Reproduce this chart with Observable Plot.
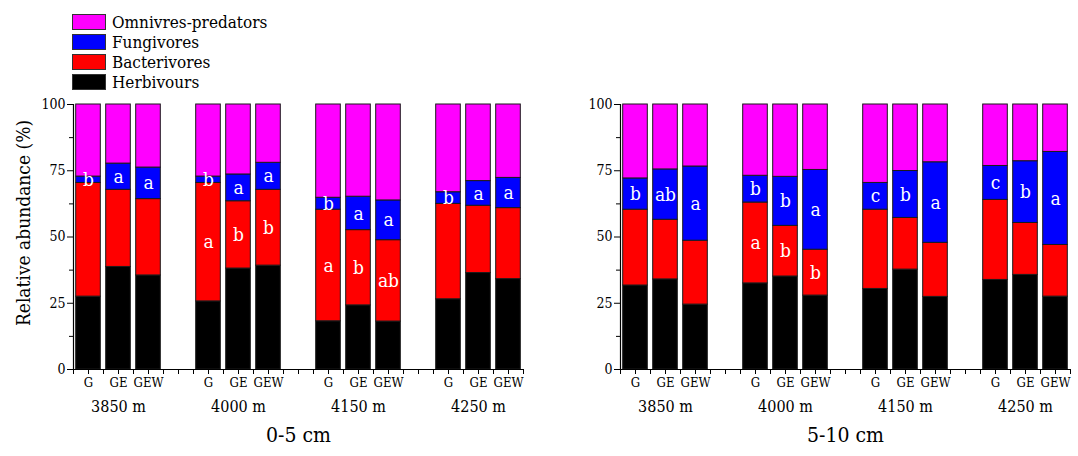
<!DOCTYPE html>
<html>
<head>
<meta charset="utf-8">
<script src="https://cdn.jsdelivr.net/npm/d3@7"></script>
<script src="https://cdn.jsdelivr.net/npm/@observablehq/plot@0.6"></script>
<style>
  body { margin: 0; background: #fff; }
  #wrap { position: relative; width: 1078px; height: 456px; font-family: "DejaVu Serif Condensed", "DejaVu Serif", serif; font-stretch: condensed; color: #000; }
  .panel { position: absolute; top: 0; }
  #legend { position: absolute; left: 72px; top: 12px; }
  .lrow { display: flex; align-items: center; height: 20px; }
  .sw { width: 34px; height: 16px; border: 1px solid #333; box-sizing: border-box; margin-right: 6px; }
  .lt { font-size: 17px; line-height: 17px; }
  svg text { font-stretch: condensed; }
</style>
</head>
<body>
<div id="wrap">
  <div id="legend"></div>
  <div class="panel" id="left" style="left:0px"></div>
  <div class="panel" id="right" style="left:545px"></div>
</div>
<script>
// ---- data ----
const altitudes = ["3850 m", "4000 m", "4150 m", "4250 m"];
const treatments = ["G", "GE", "GEW"];
const slots = [1, 2, 3, 5, 6, 7, 9, 10, 11, 13, 14, 15];
const guilds = ["Herbivours", "Bacterivores", "Fungivores", "Omnivres-predators"];
const guildColors = ["#000000", "#ff0000", "#0000ff", "#ff00ff"];
const panelTitles = ["0-5 cm", "5-10 cm"];

// 0-5 cm (%), order: 3850 G,GE,GEW, 4000 G,GE,GEW, 4150 ..., 4250 ...
const herb0_5 = [27.5, 38.7, 35.5, 25.7, 38.1, 39.2, 18.2, 24.2, 18.1, 26.5, 36.4, 34.1];
const bact0_5 = [42.9, 29.1, 28.8, 44.7, 25.4, 28.6, 42.1, 28.4, 30.7, 36.0, 25.4, 26.8];
const fung0_5 = [2.4, 9.9, 11.9, 2.4, 10.1, 10.2, 4.5, 12.6, 15.0, 4.4, 9.3, 11.4];
const omni0_5 = [27.2, 22.3, 23.8, 27.2, 26.4, 22.0, 35.2, 34.8, 36.2, 33.1, 28.9, 27.7];
const fungLetters0_5 = ["b", "a", "a", "b", "a", "a", "b", "a", "a", "b", "a", "a"];
const bactLetters0_5 = ["", "", "", "a", "b", "b", "a", "b", "ab", "", "", ""];

// 5-10 cm (%)
const herb5_10 = [31.7, 34.0, 24.5, 32.5, 35.1, 27.9, 30.4, 37.7, 27.4, 33.8, 35.7, 27.5];
const bact5_10 = [28.6, 22.5, 24.1, 30.5, 19.1, 17.3, 29.9, 19.5, 20.4, 30.2, 19.6, 19.5];
const fung5_10 = [11.8, 19.0, 28.0, 10.1, 18.5, 30.1, 10.1, 17.7, 30.4, 12.8, 23.3, 35.1];
const omni5_10 = [27.9, 24.5, 23.4, 26.9, 27.3, 24.7, 29.6, 25.1, 21.8, 23.2, 21.4, 17.9];
const fungLetters5_10 = ["b", "ab", "a", "b", "b", "a", "c", "b", "a", "c", "b", "a"];
const bactLetters5_10 = ["", "", "", "a", "b", "b", "", "", "", "", "", ""];

// ---- legend ----
const legend = document.getElementById("legend");
[3, 2, 1, 0].forEach(k => {
  const row = document.createElement("div");
  row.className = "lrow";
  row.innerHTML = `<div class="sw" style="background:${guildColors[k]}"></div><span class="lt">${guilds[k]}</span>`;
  legend.appendChild(row);
});

const FONT = '"DejaVu Serif Condensed", "DejaVu Serif", serif';

function panel({herb, bact, fung, omni, fungLetters, bactLetters, title, width, marginLeft, marginRight, yLabel}) {
  const series = [herb, bact, fung, omni];
  const rects = [];
  slots.forEach((s, i) => {
    let base = 0;
    series.forEach((arr, k) => {
      rects.push({x1: s - 0.41, x2: s + 0.41, y1: base, y2: base + arr[i], guild: guilds[k]});
      base += arr[i];
    });
  });
  const letters = [];
  slots.forEach((s, i) => {
    if (fungLetters[i]) {
      const lo = herb[i] + bact[i];
      letters.push({x: s, y: lo + fung[i] / 2, t: fungLetters[i]});
    }
    if (bactLetters[i]) {
      letters.push({x: s, y: herb[i] + bact[i] / 2, t: bactLetters[i]});
    }
  });
  const tickLabel = new Map();
  slots.forEach((s, i) => tickLabel.set(s, treatments[i % 3]));
  const groupCenters = altitudes.map((a, j) => ({x: slots[j * 3 + 1], t: a}));

  const marks = [
    Plot.rect(rects, {x1: "x1", x2: "x2", y1: "y1", y2: "y2", fill: "guild", stroke: "#1a1a1a", strokeWidth: 1}),
    Plot.text(letters, {x: "x", y: "y", text: "t", fill: "white", fontSize: 19, fontFamily: FONT}),
    Plot.axisX(d3.range(0.5, 15.51, 0.5), {tickSize: 5, tickPadding: 3, fontSize: 13, fontFamily: FONT,
      tickFormat: d => tickLabel.get(d) ?? "", stroke: "black", fill: "black"}),
    Plot.axisY([0, 25, 50, 75, 100], {tickSize: 6, tickPadding: 2, fontSize: 14, fontFamily: FONT, label: null, stroke: "black", fill: "black"}),
    Plot.axisY([12.5, 37.5, 62.5, 87.5], {tickSize: 4, tickFormat: () => "", label: null, stroke: "black"}),
    Plot.ruleY([0], {stroke: "black", strokeWidth: 1.2}),
    Plot.ruleX([0.5], {stroke: "black", strokeWidth: 1.2}),
    Plot.text(groupCenters, {x: "x", text: "t", frameAnchor: "bottom", dy: 42, fontSize: 16, fontFamily: FONT, fill: "black"}),
    Plot.text([title], {frameAnchor: "bottom", dy: 72, fontSize: 21, fontFamily: FONT, fill: "black"})
  ];
  if (yLabel) {
    marks.push(Plot.text([yLabel], {frameAnchor: "left", textAnchor: "middle", dx: -50, dy: -14, rotate: -90, fontSize: 19, fontFamily: FONT, fill: "black"}));
  }
  return Plot.plot({
    width, height: 456,
    marginLeft, marginRight, marginTop: 104, marginBottom: 87,
    x: {domain: [0.5, 15.5]},
    y: {domain: [0, 100]},
    color: {domain: guilds, range: guildColors},
    style: {fontFamily: FONT, background: "transparent", color: "black", overflow: "visible"},
    marks
  });
}

document.getElementById("left").appendChild(panel({
  herb: herb0_5, bact: bact0_5, fung: fung0_5, omni: omni0_5,
  fungLetters: fungLetters0_5, bactLetters: bactLetters0_5,
  title: panelTitles[0], width: 545, marginLeft: 73, marginRight: 22, yLabel: "Relative abundance (%)"
}));
document.getElementById("right").appendChild(panel({
  herb: herb5_10, bact: bact5_10, fung: fung5_10, omni: omni5_10,
  fungLetters: fungLetters5_10, bactLetters: bactLetters5_10,
  title: panelTitles[1], width: 533, marginLeft: 75, marginRight: 8, yLabel: null
}));
</script>
</body>
</html>
